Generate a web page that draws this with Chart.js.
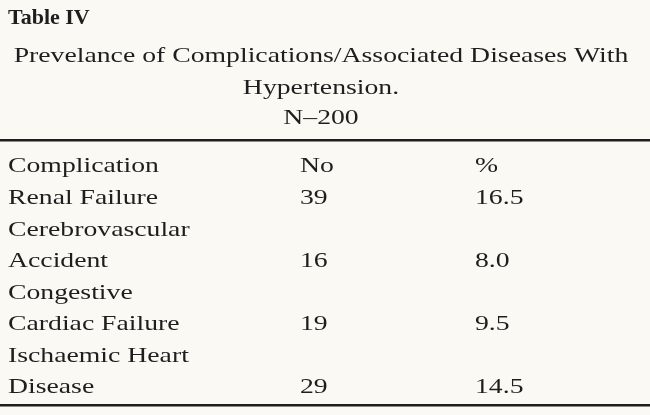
<!DOCTYPE html>
<html><head><meta charset="utf-8">
<script src="https://cdn.jsdelivr.net/npm/chart.js@4"></script>
<style>html,body{margin:0;padding:0;background:#fbf9f4;}#c{display:block;}</style>
</head><body>
<div style="width:650px;height:415px"><canvas id="c"></canvas></div>
<script>
const tableTitle = "Table IV";
const subtitleLines = ["Prevelance of Complications/Associated Diseases With", "Hypertension.", "N\u2013200"];
const headers = ["Complication", "No", "%"];
const categories = [["Renal Failure"], ["Cerebrovascular", "Accident"], ["Congestive", "Cardiac Failure"], ["Ischaemic Heart", "Disease"]];
const counts = [39, 16, 19, 29];
const percents = ["16.5", "8.0", "9.5", "14.5"];

function wideText(ctx, t, x, y, align) {
  const sx = 1.26;
  ctx.save();
  ctx.translate(x, y);
  ctx.scale(sx, 1);
  ctx.textAlign = align;
  ctx.fillText(t, 0, 0);
  ctx.restore();
}

const tablePlugin = {
  id: 'table',
  afterDraw(chart) {
    const ctx = chart.ctx;
    ctx.save();
    ctx.fillStyle = '#1e1e1e';
    ctx.textBaseline = 'alphabetic';
    ctx.font = 'bold 22px "Liberation Serif", serif';
    ctx.textAlign = 'left';
    ctx.fillText(tableTitle, 8, 24);
    ctx.font = '22px "Liberation Serif", serif';
    const sy = [62, 94, 124];
    subtitleLines.forEach((t, i) => wideText(ctx, t, 321, sy[i], 'center'));
    ctx.fillRect(0, 139, 650, 2.5);
    const cx = [8, 300, 475];
    headers.forEach((h, i) => wideText(ctx, h, cx[i], 172, 'left'));
    let y = 204;
    const lh = 31.5;
    categories.forEach((lines, r) => {
      lines.forEach((l, j) => wideText(ctx, l, cx[0], y + j * lh, 'left'));
      const ly = y + (lines.length - 1) * lh;
      wideText(ctx, String(counts[r]), cx[1], ly, 'left');
      wideText(ctx, percents[r], cx[2], ly, 'left');
      y += lines.length * lh;
    });
    ctx.fillRect(0, 404, 650, 2.5);
    ctx.restore();
  }
};

new Chart(document.getElementById('c'), {
  type: 'bar',
  data: { labels: categories.map(c => c.join(' ')), datasets: [{ data: counts, backgroundColor: 'rgba(0,0,0,0)' }] },
  options: {
    responsive: true, maintainAspectRatio: false, animation: false,
    plugins: { legend: { display: false }, tooltip: { enabled: false } },
    scales: { x: { display: false }, y: { display: false } }
  },
  plugins: [tablePlugin]
});
</script>
</body></html>
